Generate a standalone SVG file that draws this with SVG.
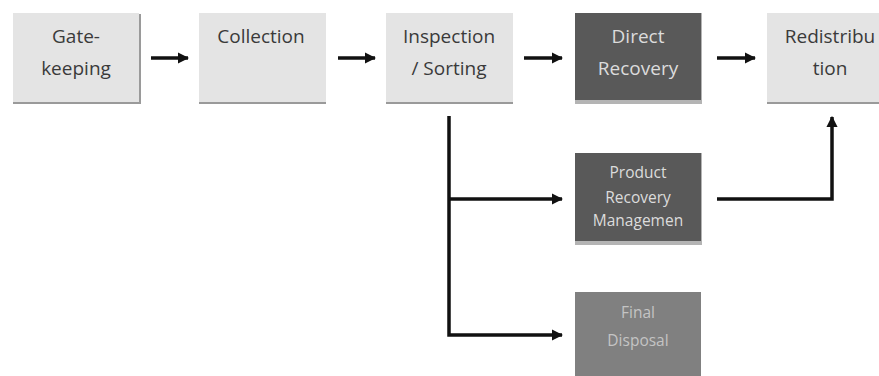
<svg xmlns="http://www.w3.org/2000/svg" width="879" height="376" viewBox="0 0 879 376">
<style>
.light{fill:#e4e4e4}
.ledge{fill:#9a9a9a}
.dark{fill:#595959}
.dedge{fill:#b4b4b4}
.mid{fill:#808080}
.t{font-family:"Open Sans","Liberation Sans",sans-serif;text-anchor:middle}
.tl{font-size:19px;fill:#3a3a3a}
.td{font-size:19px;fill:#dcdcdc}
.ts{font-size:15.5px;fill:#dcdcdc}
.tf{font-size:15.5px;fill:#c4c4c4}
.c{fill:none;stroke:#111;stroke-width:3.5;stroke-linejoin:miter}
</style>
<defs>
<marker id="ah" viewBox="0 0 10 10" refX="9" refY="5" markerWidth="3.2" markerHeight="3.2" orient="auto" markerUnits="strokeWidth">
<path d="M0,0 L10,5 L0,10 z" fill="#111"/>
</marker>
</defs>
<rect width="879" height="376" fill="#fff"/>
<g id="gatekeeping">
<rect class="ledge" x="13" y="14" width="128" height="90"/>
<rect class="light" x="13" y="13" width="126" height="89"/>
<text class="t tl" x="76" y="43">Gate-</text>
<text class="t tl" x="76" y="75">keeping</text>
</g>
<g id="collection">
<rect class="ledge" x="199" y="13" width="127" height="91"/>
<rect class="light" x="199" y="13" width="127" height="89"/>
<text class="t tl" x="261" y="43">Collection</text>
</g>
<g id="inspection">
<rect class="ledge" x="386" y="13" width="127" height="91"/>
<rect class="light" x="386" y="13" width="127" height="89"/>
<text class="t tl" x="449" y="43">Inspection</text>
<text class="t tl" x="449" y="75">/ Sorting</text>
</g>
<g id="direct-recovery">
<rect class="dedge" x="575" y="13" width="127" height="91"/>
<rect class="dark" x="575" y="13" width="126" height="87"/>
<text class="t td" x="638" y="43">Direct</text>
<text class="t td" x="638" y="75">Recovery</text>
</g>
<g id="redistribution">
<rect class="ledge" x="767" y="13" width="130" height="91"/>
<rect class="light" x="767" y="13" width="130" height="89"/>
<text class="t tl" x="830" y="43">Redistribu</text>
<text class="t tl" x="830" y="75">tion</text>
</g>
<g id="product-recovery">
<rect class="dedge" x="575" y="153" width="127" height="92"/>
<rect class="dark" x="575" y="153" width="126" height="88"/>
<text class="t ts" x="638" y="178">Product</text>
<text class="t ts" x="638" y="203">Recovery</text>
<text class="t ts" x="638" y="226">Managemen</text>
</g>
<g id="final-disposal">
<rect class="mid" x="575" y="292" width="126" height="90"/>
<text class="t tf" x="638" y="318">Final</text>
<text class="t tf" x="638" y="346">Disposal</text>
</g>
<g id="connectors">
<path class="c" d="M151,58 H188" marker-end="url(#ah)"/>
<path class="c" d="M338,58 H375" marker-end="url(#ah)"/>
<path class="c" d="M524,58 H562" marker-end="url(#ah)"/>
<path class="c" d="M717,58 H755" marker-end="url(#ah)"/>
<path class="c" d="M449,116 V335 H562" marker-end="url(#ah)"/>
<path class="c" d="M449,199 H562" marker-end="url(#ah)"/>
<path class="c" d="M717,199 H832 V117" marker-end="url(#ah)"/>
</g>
</svg>
